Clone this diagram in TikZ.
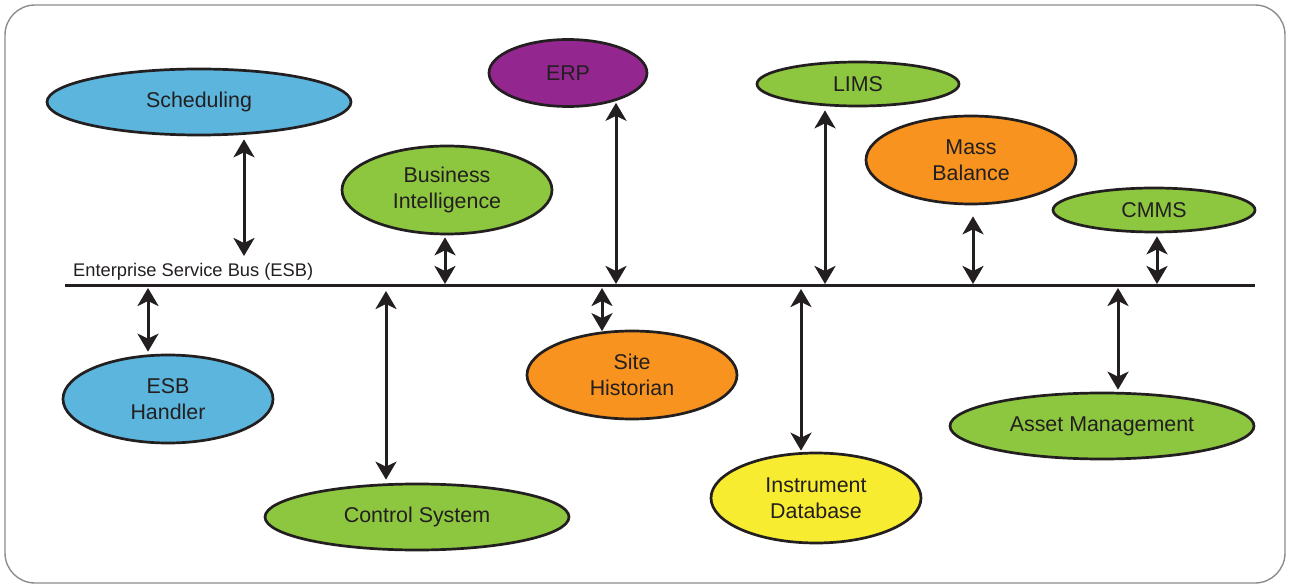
\documentclass[tikz,border=0pt]{standalone}
\usepackage{fontspec}
\setmainfont{Liberation Sans}
\usetikzlibrary{shapes.geometric,arrows.meta,calc}
\definecolor{skyblue}{HTML}{5BB5DD}
\definecolor{leaf}{HTML}{8DC63F}
\definecolor{plum}{HTML}{93278F}
\definecolor{tangerine}{HTML}{F7931E}
\definecolor{lemon}{HTML}{F8EC31}
\definecolor{ink}{HTML}{231F20}
\definecolor{framegray}{HTML}{8C8C8C}

\begin{document}
\begin{tikzpicture}[x=1pt,y=-1pt,
  app/.style={ellipse, draw=ink, line width=2.7pt, inner sep=0pt, text=ink,
              font=\fontsize{21.4}{25.5}\selectfont, align=center},
  wide/.style={app, minimum width=304pt, minimum height=66pt},
  big/.style={app, minimum width=210pt, minimum height=88pt},
  slim/.style={app, minimum width=202pt, minimum height=44pt},
  link/.style={draw=ink, line width=3pt,
               {Stealth[length=18pt,width=21pt,inset=5pt]}-{Stealth[length=18pt,width=21pt,inset=5pt]}}
]
% canvas and outer frame
\useasboundingbox (0,0) rectangle (1291,585);
\draw[framegray, line width=1.4pt, rounded corners=30pt] (5,5) rectangle (1285,583);

% the service bus
\coordinate (busL) at (65,286);
\coordinate (busR) at (1255,286);
\draw[ink, line width=3pt] (busL) -- (busR);
\node[anchor=base west, inner sep=0pt, text=ink, font=\fontsize{18.3}{20}\selectfont]
  (esb) at (73,277) {Enterprise Service Bus (ESB)};

% systems above the bus
\node[wide, fill=skyblue] (sched) at (199,102) {Scheduling};
\node[big, fill=leaf] (bi) at (447,190) {Business\\Intelligence};
\node[app, fill=plum, minimum width=158pt, minimum height=67pt] (erp) at (568,73) {ERP};
\node[slim, fill=leaf] (lims) at (858,84) {LIMS};
\node[big, fill=tangerine] (mass) at (971,160) {Mass\\Balance};
\node[slim, fill=leaf] (cmms) at (1154,210) {CMMS};

% systems below the bus
\node[big, fill=skyblue] (esbh) at (168,399) {ESB\\Handler};
\node[wide, fill=leaf] (ctrl) at (417,517) {Control System};
\node[big, fill=tangerine] (hist) at (632,375) {Site\\Historian};
\node[big, fill=lemon, minimum height=90pt] (instr) at (816,498) {Instrument\\Database};
\node[wide, fill=leaf] (asset) at (1102,426) {Asset Management};

% link ends at the bus
\coordinate (tSched) at (244,256);
\coordinate (tBi)    at (445,284);
\coordinate (tErp)   at (616,284);
\coordinate (tLims)  at (825,284);
\coordinate (tMass)  at (973,284);
\coordinate (tCmms)  at (1157,284);
\coordinate (bEsbh)  at (148,288);
\coordinate (bCtrl)  at (386,291);
\coordinate (bHist)  at (602,288);
\coordinate (bInstr) at (801,289);
\coordinate (bAsset) at (1118,288);

% two-way links
\draw[link] ($(sched.south -| tSched)+(0,3)$) -- (tSched);
\draw[link] ($(bi.south -| tBi)+(0,2)$) -- (tBi);
\draw[link] ($(erp.south -| tErp)+(0,-5)$) -- (tErp);
\draw[link] ($(lims.south -| tLims)+(0,3)$) -- (tLims);
\draw[link] ($(mass.south -| tMass)+(0,11)$) -- (tMass);
\draw[link] ($(cmms.south -| tCmms)+(0,3)$) -- (tCmms);
\draw[link] (bEsbh) -- ($(esbh.north -| bEsbh)+(0,-2)$);
\draw[link] (bCtrl) -- ($(ctrl.north -| bCtrl)+(0,-3)$);
\draw[link] (bHist) -- ($(hist.north -| bHist)+(0,1.5)$);
\draw[link] (bInstr) -- ($(instr.north -| bInstr)+(0,-1)$);
\draw[link] (bAsset) -- ($(asset.north -| bAsset)+(0,-2)$);
\end{tikzpicture}
\end{document}
